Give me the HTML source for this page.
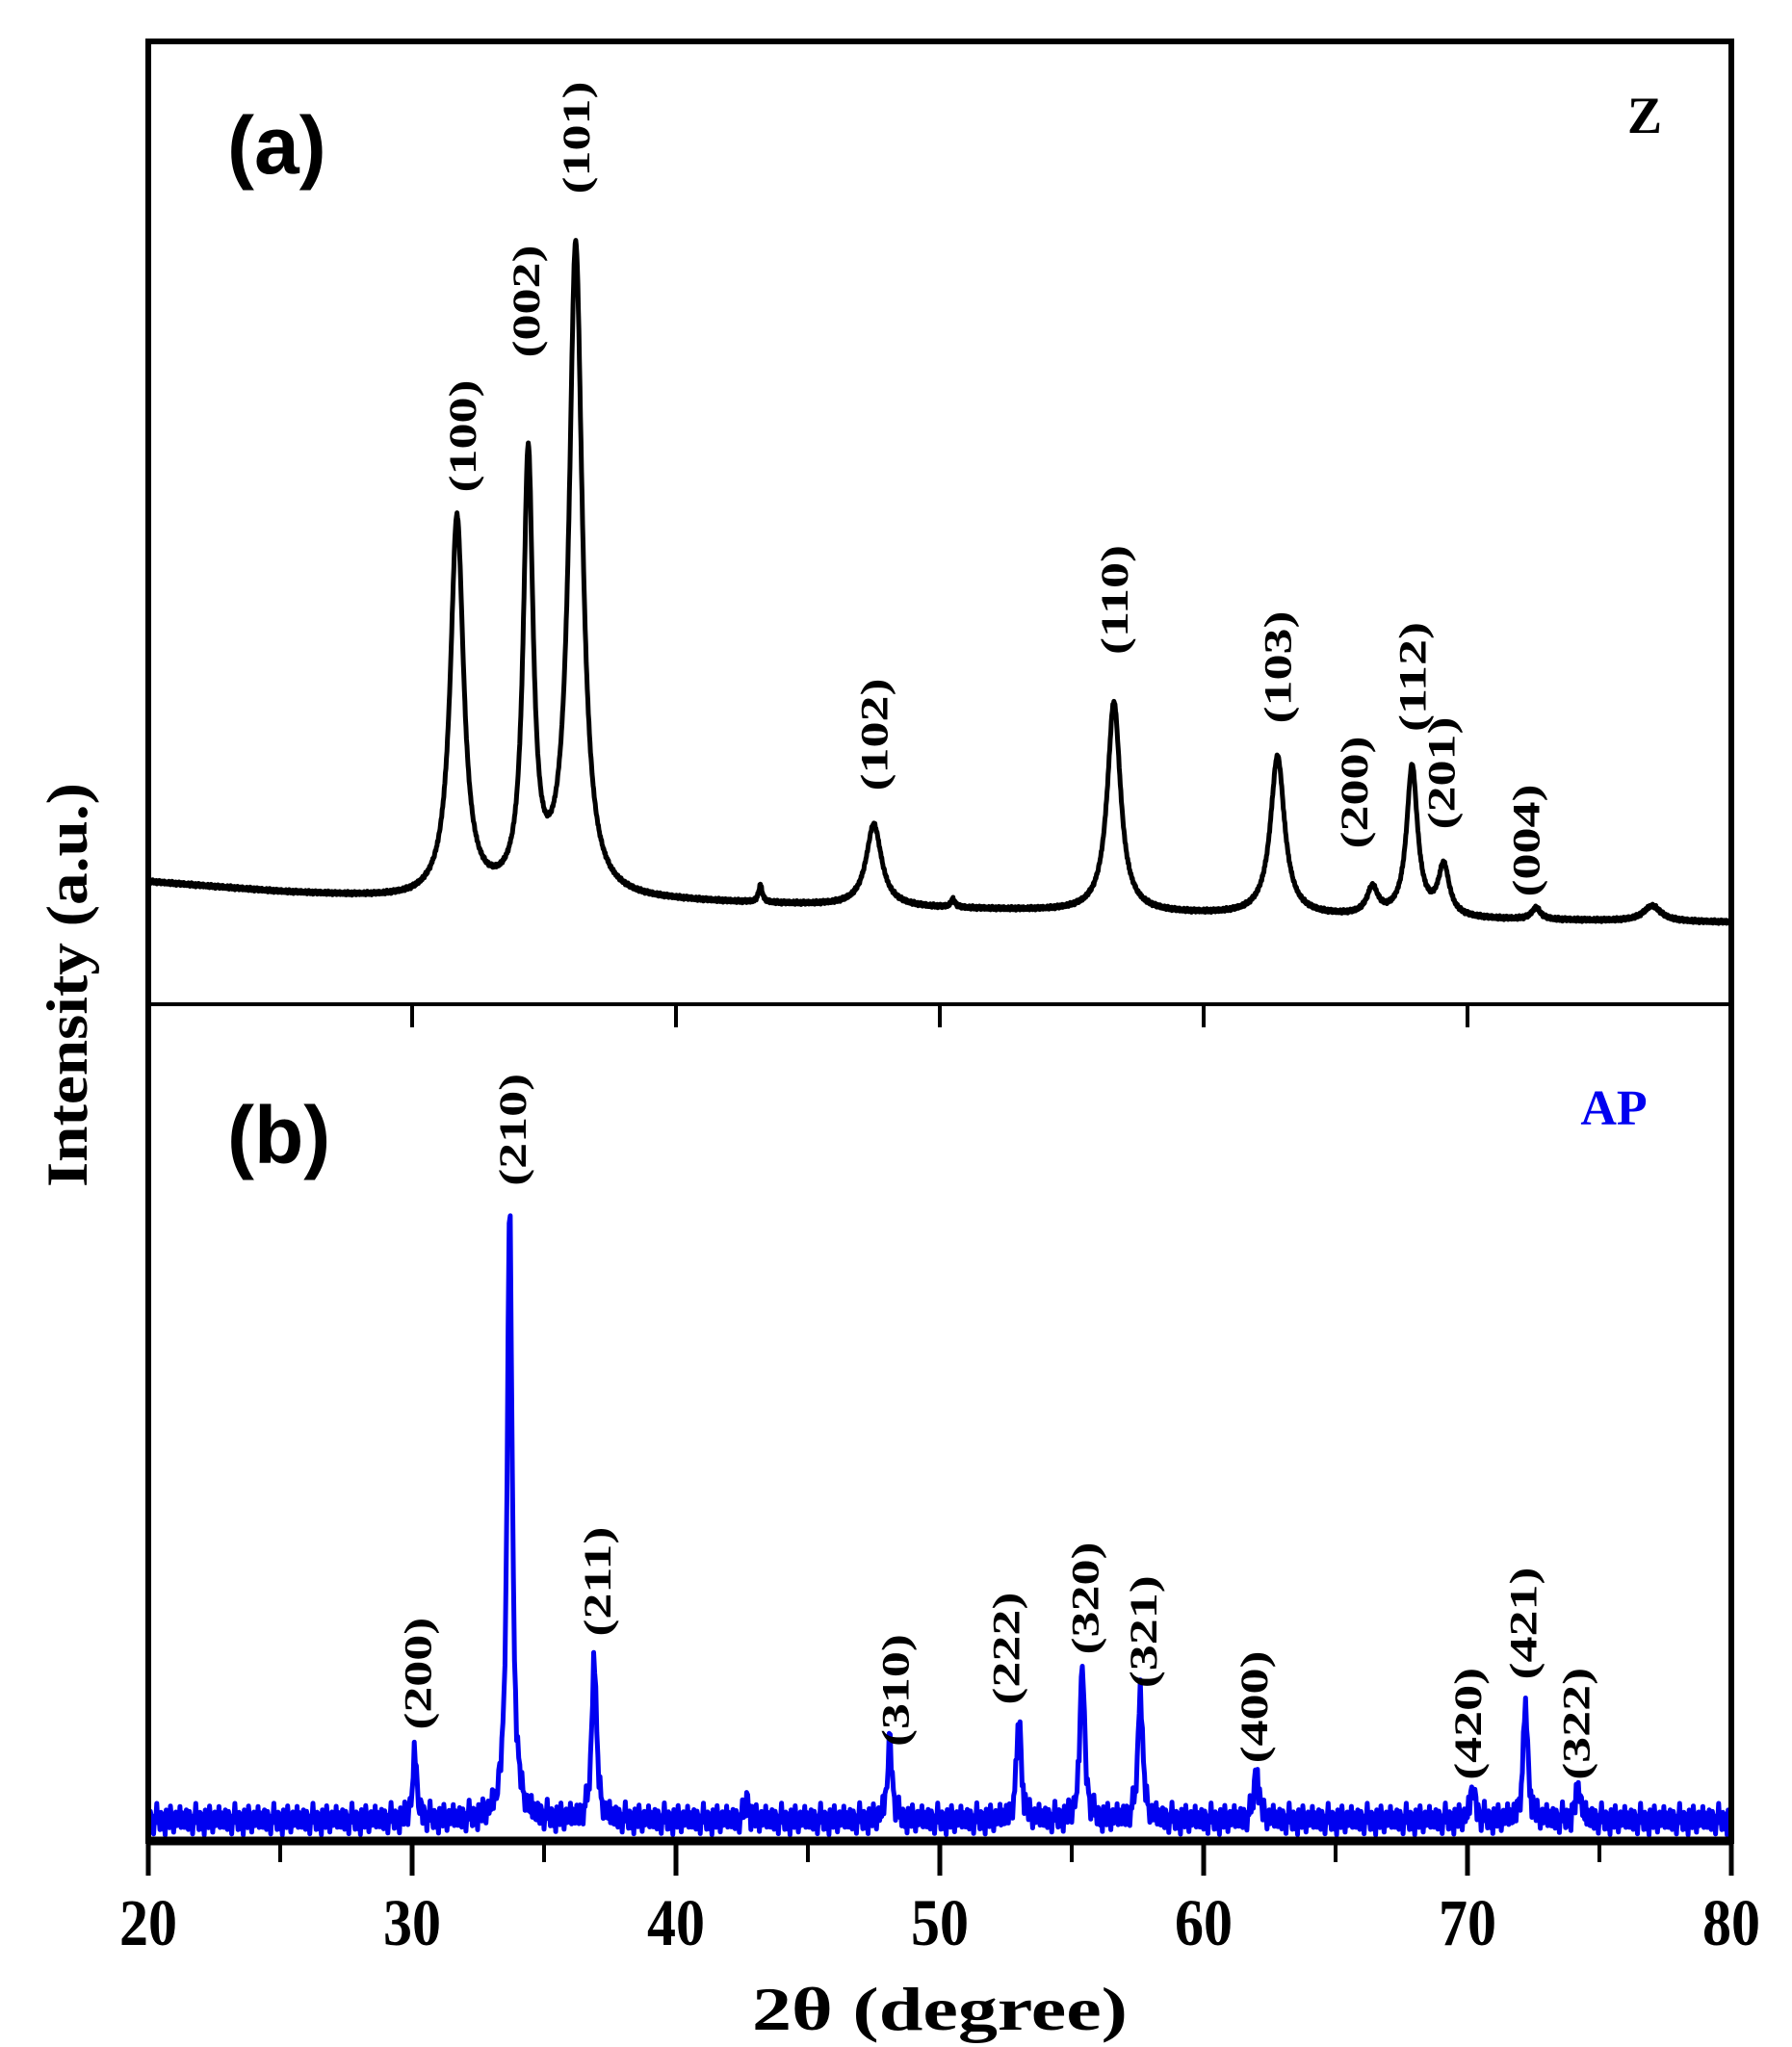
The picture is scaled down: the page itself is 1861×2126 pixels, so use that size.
<!DOCTYPE html>
<html><head><meta charset="utf-8"><style>
html,body{margin:0;padding:0;background:#fff}
svg{display:block}
text{font-family:"Liberation Serif",serif;font-weight:bold}
</style></head><body>
<svg id="chart" width="1861" height="2126" viewBox="0 0 1861 2126" xmlns="http://www.w3.org/2000/svg">
<g id="plot"></g>
</svg>
<script>
// ---- data ----
const xTicks = [20,30,40,50,60,70,80];
const xTickLabels = ["20","30","40","50","60","70","80"];
const xMinorTicks = [25,35,45,55,65,75];
// Panel (a) Z: peaks
const zPeakPos = [31.7,34.4,36.2,43.2,47.5,50.5,56.6,62.8,66.4,67.9,69.1,72.6,77.0];
const zPeakHeight = [39.5,45.2,67.7,1.8,8.5,0.8,21.8,16.5,2.8,15.6,5.2,1.2,1.6];
const zPeakWidth = [0.30,0.22,0.30,0.08,0.35,0.1,0.30,0.32,0.25,0.25,0.25,0.2,0.4];
const zBaseX = [20,25,30,40,50,60,70,80];
const zBaseY = [12.7,11.6,10.8,10.6,9.9,9.3,8.8,8.5];
const zLabels = ["(100)","(002)","(101)","(102)","(110)","(103)","(200)","(112)","(201)","(004)"];
const zLabelX = [31.9,34.3,36.2,47.5,56.6,62.8,65.7,67.9,69.0,72.2];
const zLabelV = [59,73,90,28,42,35,22,34,24,17];
// Panel (b) AP: peaks
const apPeakPos = [30.1,33.7,36.9,42.7,48.1,53.0,55.4,57.6,62.0,70.2,72.2,74.2];
const apPeakHeight = [8.0,74.0,20.0,2.5,9.5,12.5,19.2,16.0,6.2,4.0,14.0,4.2];
const apPeakWidth = [0.09,0.11,0.1,0.08,0.1,0.1,0.1,0.1,0.1,0.1,0.1,0.1];
const apBase = 2.6;
const apNoise = [0.6,-0.9,1.1,-0.3,0.2,-1.2,0.8,-0.5,1.3,-0.8,0.1,-1.0,0.7,0.3,-0.6,1.0,-1.3,0.4,-0.2,0.9,-0.7,1.2,-0.4,0.0,-1.1,0.6,0.9,-0.8,0.3,-0.5,1.1,-1.0,0.2,0.7,-0.3,-0.9,0.5];
const apLabels = ["(200)","(210)","(211)","(310)","(222)","(320)","(321)","(400)","(420)","(421)","(322)"];
const apLabelX = [30.2,33.8,37.0,48.3,52.5,55.5,57.7,61.9,70.0,72.1,74.1];
const apLabelV = [20,85,31,18,23,29,25,16,14,26,14];

// ---- axes ----
const L=154,R=1798,T=43,MID=1043,B=1912;
const sx = x => L + (x-20)/(80-20)*(R-L);
const syA = v => MID - v/100*(MID-T);
const syB = v => B - v/100*(B-MID);
const NS="http://www.w3.org/2000/svg";
const g=document.getElementById('plot');
function mk(tag,attrs,parent){const e=document.createElementNS(NS,tag);for(const k in attrs)e.setAttribute(k,attrs[k]);(parent||g).appendChild(e);return e;}
function interp(xs,ys,x){for(let i=0;i<xs.length-1;i++){if(x<=xs[i+1]){const t=(x-xs[i])/(xs[i+1]-xs[i]);return ys[i]+t*(ys[i+1]-ys[i]);}}return ys[ys.length-1];}
function lor(x,p,h,w){const d=(x-p)/w;return h/(1+d*d);}

// series a
let d='';
for(let i=0;i<=3000;i++){const x=20+i*0.02;let v=interp(zBaseX,zBaseY,x);
 for(let k=0;k<zPeakPos.length;k++)v+=lor(x,zPeakPos[k],zPeakHeight[k],zPeakWidth[k]);
 v+=0.15*apNoise[i%apNoise.length];
 d+=(i?'L':'M')+sx(x).toFixed(1)+','+syA(v).toFixed(1);}
const pa=mk('path',{d:d,fill:'none',stroke:'#000','stroke-width':5,'stroke-linejoin':'round'});



// series b
d='';
for(let i=0;i<=1500;i++){const x=20+i*0.04;let v=apBase+apNoise[i%apNoise.length]*1.1+apNoise[(i*7)%apNoise.length]*0.5;
 for(let k=0;k<apPeakPos.length;k++)v+=lor(x,apPeakPos[k],apPeakHeight[k],apPeakWidth[k]);
 d+=(i?'L':'M')+sx(x).toFixed(1)+','+syB(v).toFixed(1);}
const pb=mk('path',{d:d,fill:'none',stroke:'#0000f0','stroke-width':5,'stroke-linejoin':'round'});



// frame
const fr=mk('rect',{x:L,y:T,width:R-L,height:B-T,fill:'none',stroke:'#000','stroke-width':6});


const bl=mk('line',{x1:L,x2:R,y1:B,y2:B,stroke:'#000','stroke-width':9});


const dv=mk('line',{x1:L,x2:R,y1:MID,y2:MID,stroke:'#000','stroke-width':4});



// ticks
xTicks.forEach((t,i)=>{
 const tk=mk('line',{x1:sx(t),x2:sx(t),y1:B,y2:B+36,stroke:'#000','stroke-width':5});
 
 
 if(i>0&&i<xTicks.length-1){const t2=mk('line',{x1:sx(t),x2:sx(t),y1:MID,y2:MID+24,stroke:'#000','stroke-width':4});
  
  }
 const lb=mk('text',{'font-size':60,'text-anchor':'middle',transform:`translate(${sx(t)},${B+108}) scale(1,1.15)`});
 lb.textContent=xTickLabels[i];
 
 
});
xMinorTicks.forEach(t=>{
 const tk=mk('line',{x1:sx(t),x2:sx(t),y1:B,y2:B+22,stroke:'#000','stroke-width':4});
 
 
});

// peak labels
function plabel(txt,x,y,name){
 const t=mk('text',{'font-size':40,'text-anchor':'middle',transform:`translate(${x},${y}) rotate(-90) scale(1.35,1)`,dy:14});
 t.textContent=txt;
 
 
}
zLabels.forEach((s,i)=>plabel(s,sx(zLabelX[i]),syA(zLabelV[i]),'z-peak-label'));
apLabels.forEach((s,i)=>plabel(s,sx(apLabelX[i]),syB(apLabelV[i]),'ap-peak-label'));

// titles
let t=mk('text',{x:(L+R)/2,y:2108,'font-size':64,'text-anchor':'middle',textLength:390,lengthAdjust:'spacingAndGlyphs'});
t.textContent='2θ (degree)';


t=mk('text',{'font-size':60,'text-anchor':'middle',transform:'translate(90,1023) rotate(-90)',textLength:420,lengthAdjust:'spacingAndGlyphs'});
t.textContent='Intensity (a.u.)';


t=mk('text',{x:236,y:180,'font-size':84,style:'font-family:"Liberation Sans",sans-serif'});
t.textContent='(a)';


t=mk('text',{x:236,y:1208,'font-size':84,style:'font-family:"Liberation Sans",sans-serif'});
t.textContent='(b)';


t=mk('text',{x:1708,y:138,'font-size':54,'text-anchor':'middle'});
t.textContent='Z';


t=mk('text',{x:1676,y:1168,'font-size':52,'text-anchor':'middle',fill:'#0000f0'});
t.textContent='AP';


</script>
</body></html>
